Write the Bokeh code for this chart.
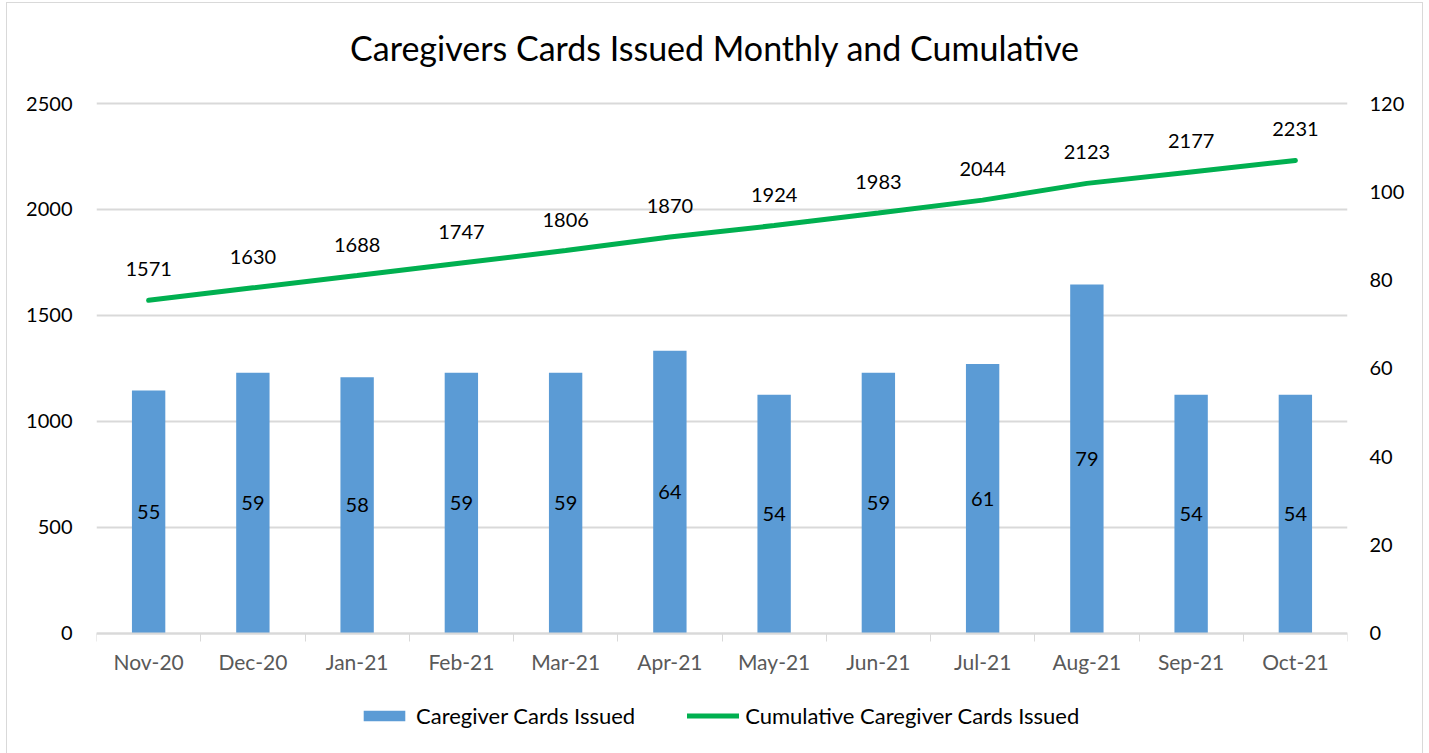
from bokeh.plotting import figure
from bokeh.models import (Range1d, LinearAxis, FixedTicker, ColumnDataSource,
                          Legend, LegendItem, Label)
from bokeh.core.properties import value
from bokeh.embed import file_html
from bokeh.resources import INLINE

months = ["Nov-20", "Dec-20", "Jan-21", "Feb-21", "Mar-21", "Apr-21",
          "May-21", "Jun-21", "Jul-21", "Aug-21", "Sep-21", "Oct-21"]
issued = [55, 59, 58, 59, 59, 64, 54, 59, 61, 79, 54, 54]
cumulative = [1571, 1630, 1688, 1747, 1806, 1870, 1924, 1983, 2044, 2123, 2177, 2231]
left_ticks = [0, 500, 1000, 1500, 2000, 2500]
right_ticks = [0, 20, 40, 60, 80, 100, 120]
LEFT_MAX, RIGHT_MAX = 2500, 120

FONT = "Lato"

# layout (page pixels)
CANVAS_TOP = 3          # where the canvas starts on the page
FRAME_H = 750           # frame covers whole canvas height
PLOT_TOP = 103          # y of the top gridline
PLOT_ZERO = 632.7       # y of the zero line
TITLE_Y = 47
k_left = (PLOT_ZERO - PLOT_TOP) / LEFT_MAX
k_right = (PLOT_ZERO - PLOT_TOP) / RIGHT_MAX
canvas_bottom = CANVAS_TOP + FRAME_H
left_range = Range1d(-(canvas_bottom - PLOT_ZERO) / k_left, LEFT_MAX + (PLOT_TOP - CANVAS_TOP) / k_left)
right_range = Range1d(-(canvas_bottom - PLOT_ZERO) / k_right, RIGHT_MAX + (PLOT_TOP - CANVAS_TOP) / k_right)

x = list(range(len(months)))
src = ColumnDataSource(dict(
    x=x, issued=issued, half=[v / 2 for v in issued], cum=cumulative,
    issued_txt=[str(v) for v in issued], cum_txt=[str(v) for v in cumulative]))

p = figure(frame_width=1251, frame_height=FRAME_H,
           min_border_left=89, min_border_right=75, min_border_top=0, min_border_bottom=0,
           x_range=Range1d(-0.5, len(months) - 0.5), y_range=left_range,
           output_backend="svg", toolbar_location=None)
p.extra_y_ranges = {"right": right_range}
p.outline_line_color = None
p.styles = {"border": "1px solid #d9d9d9", "margin-left": "6px", "margin-top": "2px"}

# title
p.add_layout(Label(x=(len(months) - 1) / 2, y=LEFT_MAX + (PLOT_TOP - TITLE_Y) / k_left,
                   x_offset=-7, text="Caregivers Cards Issued Monthly and Cumulative",
                   text_align="center", text_baseline="middle", text_font=FONT,
                   text_font_size="34px", text_color="#000000"))

# left axis
p.yaxis.ticker = FixedTicker(ticks=left_ticks)
p.yaxis.axis_line_color = None
p.yaxis.major_tick_line_color = None
p.yaxis.minor_tick_line_color = None
p.yaxis.major_label_text_font = FONT
p.yaxis.major_label_text_font_size = "20px"
p.yaxis.major_label_text_color = "#000000"
p.yaxis.major_label_standoff = 18

# right axis
ra = LinearAxis(y_range_name="right", ticker=FixedTicker(ticks=right_ticks))
ra.axis_line_color = None
ra.major_tick_line_color = None
ra.minor_tick_line_color = None
ra.major_label_text_font = FONT
ra.major_label_text_font_size = "20px"
ra.major_label_text_color = "#000000"
ra.major_label_standoff = 16
p.add_layout(ra, "right")

# x axis, drawn at value 0
p.xaxis.fixed_location = 0
p.xaxis.ticker = FixedTicker(ticks=x, minor_ticks=[i - 0.5 for i in range(len(months) + 1)])
p.xaxis.major_label_overrides = {i: m for i, m in enumerate(months)}
p.xaxis.major_tick_line_color = None
p.xaxis.major_tick_out = 0
p.xaxis.minor_tick_in = 0
p.xaxis.minor_tick_out = 8
p.xaxis.minor_tick_line_color = "#d9d9d9"
p.xaxis.axis_line_color = "#d9d9d9"
p.xaxis.axis_line_width = 2
p.xaxis.major_label_text_font = FONT
p.xaxis.major_label_text_font_size = "21px"
p.xaxis.major_label_text_color = "#595959"
p.xaxis.major_label_standoff = 8

p.xgrid.grid_line_color = None
p.ygrid.grid_line_color = "#d9d9d9"
p.ygrid.grid_line_width = 2

bars = p.vbar(x="x", top="issued", width=0.32, fill_color="#5B9BD5", line_color=None,
              y_range_name="right", source=src)
line = p.line(x="x", y="cum", line_width=5, line_color="#00B050", line_cap="round",
              source=src)

p.text(x="x", y="half", text="issued_txt", y_range_name="right", source=src,
       text_align="center", text_baseline="middle", text_font=value(FONT),
       text_font_size="20px", text_color="#000000")
p.text(x="x", y="cum", text="cum_txt", source=src, y_offset=-31,
       text_align="center", text_baseline="middle", text_font=value(FONT),
       text_font_size="20px", text_color="#000000")

legend = Legend(items=[LegendItem(label="Caregiver Cards Issued", renderers=[bars]),
                       LegendItem(label="Cumulative Caregiver Cards Issued", renderers=[line])],
                orientation="horizontal", location=(262, int(canvas_bottom - 729)),
                glyph_width=52, glyph_height=13, label_standoff=6, spacing=52,
                label_text_font=FONT, label_text_font_size="22px", label_text_color="#000000",
                border_line_color=None, background_fill_alpha=0, margin=0, padding=0)
p.add_layout(legend, "center")

open("out.html", "w").write(file_html(p, INLINE))
